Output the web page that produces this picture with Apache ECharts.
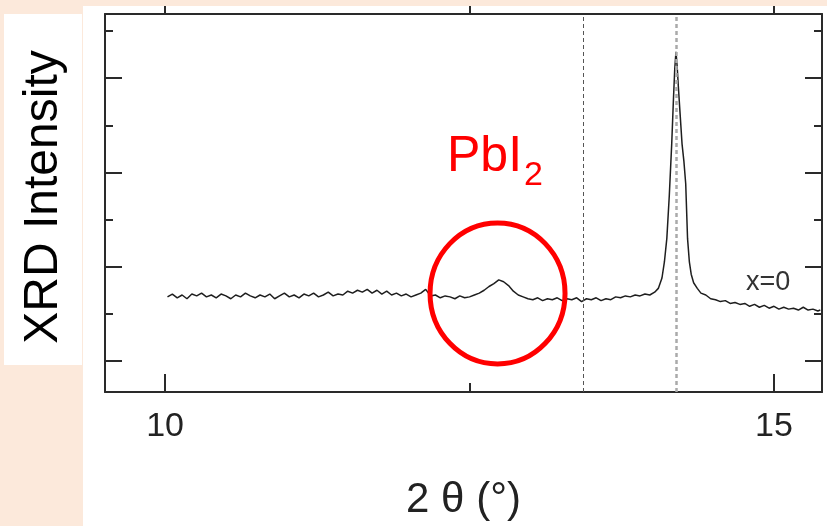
<!DOCTYPE html>
<html>
<head>
<meta charset="utf-8">
<script src="https://cdn.jsdelivr.net/npm/echarts@6/dist/echarts.min.js"></script>
<style>html,body{margin:0;padding:0;background:#fff;}#c{width:827px;height:526px;}</style>
</head>
<body>
<div id="c"></div>
<script>
// ---- data ----
const twoTheta = [
10.02,10.06,10.10,10.14,10.18,10.22,10.26,10.30,10.34,10.38,10.42,10.46,10.50,10.54,10.58,10.62,10.66,10.70,10.74,10.78,
10.82,10.86,10.90,10.94,10.98,11.02,11.06,11.10,11.14,11.18,11.22,11.26,11.30,11.34,11.38,11.42,11.46,11.50,11.54,11.58,
11.62,11.66,11.70,11.74,11.78,11.82,11.86,11.90,11.94,11.98,12.02,12.06,12.10,12.14,12.18,12.22,12.26,12.30,12.34,12.38,
12.42,12.46,12.50,12.54,12.58,12.62,12.66,12.70,12.74,12.78,12.82,12.86,12.90,12.94,12.98,13.02,13.06,13.10,13.14,13.18,
13.22,13.26,13.30,13.34,13.38,13.42,13.46,13.50,13.54,13.58,13.62,13.66,13.70,13.74,13.78,13.82,13.86,13.90,13.94,13.98,
14.02,14.05,14.08,14.10,14.12,14.14,14.16,14.175,14.185,14.195,14.205,14.215,14.23,14.245,14.26,14.275,14.29,14.305,14.32,14.34,
14.37,14.40,14.44,14.48,14.52,14.56,14.60,14.64,14.68,14.72,14.76,14.80,14.84,14.88,14.92,14.96,15.00,15.04,15.08,15.12,
15.16,15.20,15.24,15.28,15.32,15.36,15.38
];
const intensity = [
1.68,1.71,1.67,1.70,1.66,1.71,1.69,1.72,1.68,1.70,1.67,1.71,1.69,1.66,1.70,1.68,1.72,1.69,1.67,1.70,
1.68,1.71,1.66,1.69,1.72,1.68,1.70,1.67,1.71,1.69,1.72,1.68,1.70,1.73,1.69,1.71,1.70,1.74,1.72,1.75,
1.73,1.76,1.72,1.75,1.71,1.74,1.70,1.72,1.69,1.71,1.68,1.70,1.72,1.76,1.69,1.70,1.67,1.69,1.68,1.66,
1.69,1.67,1.68,1.70,1.72,1.75,1.79,1.82,1.86,1.84,1.80,1.74,1.70,1.68,1.66,1.65,1.67,1.64,1.66,1.65,
1.67,1.64,1.66,1.65,1.67,1.63,1.66,1.65,1.67,1.64,1.66,1.65,1.68,1.67,1.69,1.68,1.70,1.69,1.71,1.70,
1.73,1.77,1.88,2.05,2.30,2.75,3.30,3.80,4.10,4.28,4.12,3.90,3.60,3.30,3.12,2.88,2.30,2.05,1.92,1.83,
1.77,1.72,1.70,1.66,1.65,1.63,1.64,1.61,1.62,1.60,1.61,1.58,1.60,1.57,1.59,1.56,1.58,1.55,1.57,1.55,
1.56,1.54,1.57,1.54,1.55,1.53,1.54
];
const xMajorTicks = [10, 15];
const xMinorTicks = [12.5];
const xTopTicks = [10, 12.5, 15];
const yMajorTicks = [1, 2, 3, 4];
const yMinorTicks = [1.5, 2.5, 3.5, 4.5];
const refLines = [13.43, 14.195];
const bumpCenter = [12.73, 1.716];
const xName = '2 θ (°)';
const yName = 'XRD Intensity';
const seriesLabel = 'x=0';

const X_MIN = 9.507, X_MAX = 15.394, Y_MIN = 0.671, Y_MAX = 4.68;
const AX = '#2a2a2a';
const font = 'Liberation Sans, Arial, sans-serif';

const chart = echarts.init(document.getElementById('c'), null, {renderer: 'canvas'});

function xAx(pos, ticks, len, inside, labels, showLine) {
  return {
    type: 'value', position: pos, min: X_MIN, max: X_MAX, gridIndex: 0,
    splitLine: {show: false},
    axisLine: {show: showLine, onZero: false, lineStyle: {color: AX, width: 2}},
    axisTick: {show: true, inside: inside, length: len, customValues: ticks, lineStyle: {color: AX, width: 2}},
    axisLabel: labels ? {show: true, customValues: labels, margin: 18, fontSize: 34, color: '#222', fontFamily: font} : {show: false}
  };
}
function yAx(pos, ticks, len, showLine) {
  return {
    type: 'value', position: pos, min: Y_MIN, max: Y_MAX, gridIndex: 0,
    splitLine: {show: false},
    axisLine: {show: showLine, onZero: false, lineStyle: {color: AX, width: 2}},
    axisTick: {show: true, inside: true, length: len, customValues: ticks, lineStyle: {color: AX, width: 2}},
    axisLabel: {show: false}
  };
}

const xa0 = xAx('bottom', xMajorTicks, 18, true, xMajorTicks, true);
xa0.name = xName;
xa0.nameLocation = 'middle';
xa0.nameGap = 87;
xa0.nameTextStyle = {fontSize: 42, color: '#222', fontFamily: font};

chart.setOption({
  backgroundColor: '#ffffff',
  animation: false,
  grid: {left: 105, right: 5, top: 14, bottom: 134, containLabel: false},
  xAxis: [
    xa0,
    xAx('bottom', xMinorTicks, 9, true, null, false),
    xAx('top', xTopTicks, 8, false, null, true)
  ],
  yAxis: [
    yAx('left', yMajorTicks, 17, true),
    yAx('left', yMinorTicks, 8, false),
    yAx('right', yMajorTicks, 17, true),
    yAx('right', yMinorTicks, 8, false)
  ],
  series: [{
    type: 'line',
    xAxisIndex: 0, yAxisIndex: 0,
    data: twoTheta.map((t, i) => [t, intensity[i]]),
    showSymbol: false, symbol: 'none',
    lineStyle: {color: '#1e1e1e', width: 1.5},
    z: 3,
    markLine: {
      silent: true, symbol: 'none', label: {show: false},
      data: [
        {xAxis: refLines[0], lineStyle: {color: '#555', width: 1, type: [4, 3]}},
        {xAxis: refLines[1], lineStyle: {color: '#aaaaaa', width: 2.5, type: [4, 3]}}
      ]
    }
  }]
});

const c = chart.convertToPixel({xAxisIndex: 0, yAxisIndex: 0}, bumpCenter);
const pk = chart.convertToPixel({xAxisIndex: 0, yAxisIndex: 0}, [15.0, 1.93]);

chart.setOption({
  graphic: [
    {type: 'rect', z: -5, shape: {x: 0, y: 0, width: 827, height: 6}, style: {fill: '#FCE9DB'}},
    {type: 'rect', z: -5, shape: {x: 0, y: 6, width: 83, height: 520}, style: {fill: '#FCE9DB'}},
    {type: 'rect', z: -4, shape: {x: 4, y: 14, width: 78, height: 351}, style: {fill: '#ffffff'}},
    {type: 'text', z: 50, x: 44, y: 197, rotation: Math.PI / 2,
     style: {text: yName, fill: '#000', font: '48px ' + font, align: 'center', verticalAlign: 'middle'}},
    {type: 'ellipse', z: 60, shape: {cx: c[0], cy: c[1], rx: 67.5, ry: 70.5},
     style: {fill: 'none', stroke: '#ff0000', lineWidth: 5}},
    {type: 'text', z: 60, x: 447, y: 157,
     style: {text: 'PbI', fill: '#ff0000', font: '50px ' + font, align: 'left', verticalAlign: 'middle'}},
    {type: 'text', z: 60, x: 524, y: 176,
     style: {text: '2', fill: '#ff0000', font: '34px ' + font, align: 'left', verticalAlign: 'middle'}},
    {type: 'text', z: 60, x: 746, y: 283,
     style: {text: seriesLabel, fill: '#333', font: '27px ' + font, align: 'left', verticalAlign: 'middle'}}
  ]
});
</script>
</body>
</html>
